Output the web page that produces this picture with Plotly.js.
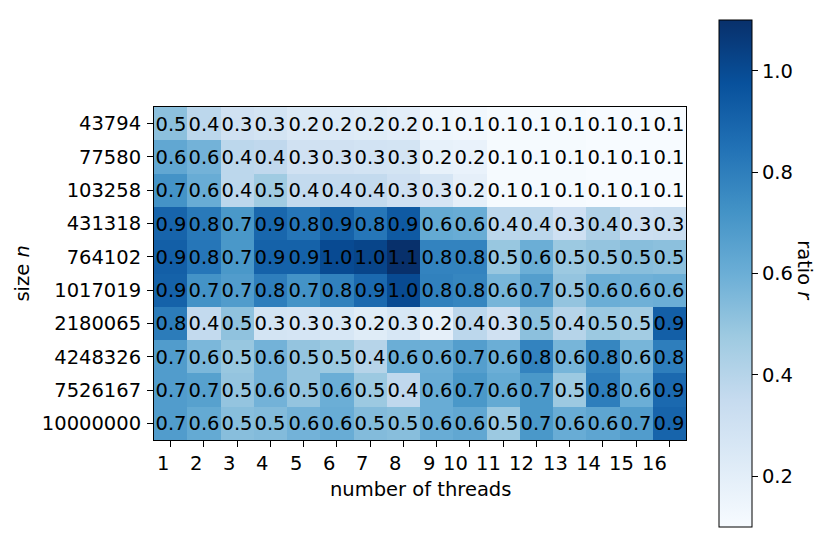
<!DOCTYPE html>
<html><head><meta charset="utf-8">
<script src="https://cdn.plot.ly/plotly-3.0.1.min.js"></script>
<style>html,body{margin:0;padding:0;background:#fff}</style>
</head><body><div id="chart" style="width:831px;height:548px"></div>
<script>
const threads = [1,2,3,4,5,6,7,8,9,10,11,12,13,14,15,16];
const threadLabels = ["1","2","3","4","5","6","7","8","9","10","11","12","13","14","15","16"];
const sizes = ["43794","77580","103258","431318","764102","1017019","2180065","4248326","7526167","10000000"];
const r_43794    = [0.52,0.38,0.30,0.28,0.24,0.23,0.22,0.20,0.14,0.13,0.11,0.11,0.11,0.10,0.10,0.10];
const r_77580    = [0.63,0.58,0.38,0.37,0.30,0.30,0.29,0.28,0.18,0.17,0.11,0.11,0.11,0.10,0.10,0.10];
const r_103258   = [0.72,0.61,0.38,0.47,0.36,0.36,0.36,0.31,0.27,0.19,0.11,0.11,0.11,0.10,0.10,0.10];
const r_431318   = [0.90,0.82,0.70,0.89,0.83,0.91,0.83,0.94,0.62,0.61,0.38,0.38,0.31,0.42,0.32,0.33];
const r_764102   = [0.92,0.83,0.70,0.91,0.91,1.00,1.02,1.10,0.78,0.78,0.49,0.60,0.48,0.50,0.53,0.52];
const r_1017019  = [0.91,0.72,0.68,0.80,0.72,0.79,0.88,1.00,0.79,0.77,0.57,0.67,0.50,0.60,0.59,0.60];
const r_2180065  = [0.81,0.36,0.51,0.28,0.27,0.26,0.22,0.26,0.19,0.38,0.30,0.52,0.40,0.48,0.46,0.92];
const r_4248326  = [0.68,0.56,0.49,0.58,0.50,0.48,0.40,0.60,0.60,0.67,0.60,0.78,0.57,0.77,0.57,0.80];
const r_7526167  = [0.68,0.66,0.50,0.58,0.50,0.60,0.48,0.37,0.61,0.70,0.62,0.70,0.48,0.80,0.60,0.88];
const r_10000000 = [0.68,0.62,0.53,0.54,0.58,0.61,0.54,0.53,0.61,0.63,0.48,0.70,0.61,0.64,0.68,0.90];

const z = [r_43794,r_77580,r_103258,r_431318,r_764102,r_1017019,r_2180065,r_4248326,r_7526167,r_10000000];
const text = z.map(row => row.map(v => (Math.round(v*10)/10).toFixed(1)));

const blues = [
  [0,'#f7fbff'],[0.125,'#deebf7'],[0.25,'#c6dbef'],[0.375,'#9ecae1'],
  [0.5,'#6baed6'],[0.625,'#4292c6'],[0.75,'#2171b5'],[0.875,'#08519c'],[1,'#08306b']
];

const FS = 19.5;
const font = {family:'DejaVu Sans, sans-serif', size:FS, color:'#000'};

const trace = {
  type:'heatmap', x:threads, y:sizes, z:z, text:text,
  texttemplate:'%{text}', textfont:font,
  colorscale:blues, zmin:0.10, zmax:1.10,
  colorbar:{
    x:1.062, xanchor:'left', xref:'paper', y:0.5, yanchor:'middle',
    thickness:33, thicknessmode:'pixels', len:507, lenmode:'pixels',
    outlinecolor:'#000', outlinewidth:1, ticks:'outside', ticklen:6, tickcolor:'#000',
    tickvals:[0.2,0.4,0.6,0.8,1.0], ticktext:['0.2','0.4','0.6','0.8','1.0'],
    tickfont:font, xpad:0, ypad:0, ticklabelstandoff:2
  }
};

const annotations = threads.map((t,i) => ({
  text:threadLabels[i], xref:'x', yref:'paper', x:t, y:0,
  xanchor:'right', yanchor:'top', xshift:0, yshift:-10, showarrow:false, font:font
}));
annotations.push({
  text:'number of threads', xref:'paper', yref:'paper', x:0.5, y:-0.15,
  xanchor:'center', yanchor:'middle', showarrow:false, font:font
});
annotations.push({
  text:'size <i>n</i>', xref:'paper', yref:'paper', x:-0.248, y:0.5,
  xanchor:'center', yanchor:'middle', textangle:-90, showarrow:false, font:font
});
annotations.push({
  text:'ratio <i>r</i>', xref:'paper', yref:'paper', x:1.2237, y:0.51,
  xanchor:'center', yanchor:'middle', textangle:90, showarrow:false, font:font
});

const layout = {
  width:831, height:548,
  margin:{l:154, r:145, t:107, b:108},
  paper_bgcolor:'#fff', plot_bgcolor:'#fff',
  font:font,
  xaxis:{
    tickvals:threads, showticklabels:false, ticks:'outside', ticklen:6, tickcolor:'#000',
    showline:true, linecolor:'#000', linewidth:1, mirror:true, showgrid:false, zeroline:false,
    range:[0.5,16.5]
  },
  yaxis:{
    type:'category', autorange:'reversed', ticks:'outside', ticklen:6, tickcolor:'#000',
    showline:true, linecolor:'#000', linewidth:1, mirror:true, showgrid:false, zeroline:false,
    tickfont:font, ticklabelstandoff:2
  },
  annotations:annotations
};

Plotly.newPlot('chart',[trace],layout,{displayModeBar:false, staticPlot:true});
</script></body></html>
